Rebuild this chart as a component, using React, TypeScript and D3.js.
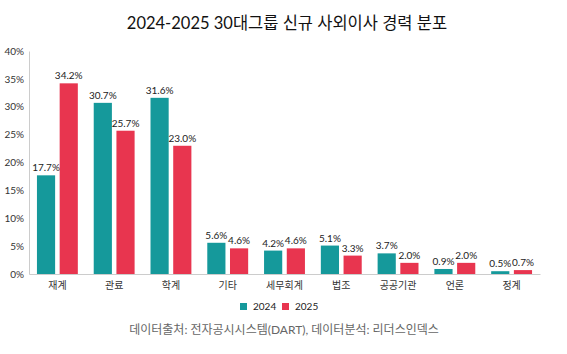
import { useRef, useEffect } from 'react';
import * as d3 from 'd3';

const categories = ['재계', '관료', '학계', '기타', '세무회계', '법조', '공공기관', '언론', '정계'];
const values2024 = [17.7, 30.7, 31.6, 5.6, 4.2, 5.1, 3.7, 0.9, 0.5];
const values2025 = [34.2, 25.7, 23.0, 4.6, 4.6, 3.3, 2.0, 2.0, 0.7];
const seriesNames = ['2024', '2025'];
const yTicks = [0, 5, 10, 15, 20, 25, 30, 35, 40];

const colors = ['#15999B', '#E8354F'];
const font = "Lato, 'Noto Sans CJK KR', sans-serif";

export default function App() {
  const svgRef = useRef<SVGSVGElement>(null);
  const width = 567;
  const height = 354;

  useEffect(() => {
    const svg = d3.select(svgRef.current);
    svg.selectAll('*').remove();
    const margin = { top: 51, right: 27, bottom: 80, left: 29 };

    svg.append('rect').attr('width', width).attr('height', height).attr('fill', '#fff');

    svg
      .append('text')
      .attr('x', 287)
      .attr('y', 29)
      .attr('text-anchor', 'middle')
      .style('font-family', font)
      .style('font-size', '16.5px')
      .attr('fill', '#111')
      .text('2024-2025 30대그룹 신규 사외이사 경력 분포');

    const x = d3
      .scaleBand()
      .domain(categories)
      .range([margin.left, width - margin.right])
      .paddingInner(0.28)
      .paddingOuter(0.14);

    const x1 = d3.scaleBand().domain(seriesNames).range([0, x.bandwidth()]).paddingInner(0.2);

    const y = d3.scaleLinear().domain([0, 40]).range([height - margin.bottom, margin.top]);

    // y axis
    const yAxis = svg
      .append('g')
      .attr('transform', `translate(${margin.left},0)`)
      .call(
        d3
          .axisLeft(y)
          .tickValues(yTicks)
          .tickSize(0)
          .tickPadding(5)
          .tickFormat((d) => `${d}%`)
      );
    yAxis.select('.domain').attr('stroke', '#ccc');
    yAxis.selectAll('text').style('font-family', font).style('font-size', '10px').attr('fill', '#333');

    // x axis
    const xAxis = svg
      .append('g')
      .attr('transform', `translate(0,${height - margin.bottom})`)
      .call(d3.axisBottom(x).tickSize(0).tickPadding(8).tickSizeOuter(0));
    xAxis.select('.domain').attr('stroke', '#ccc');
    xAxis.selectAll('text').style('font-family', font).style('font-size', '10px').attr('fill', '#333');

    const series = [values2024, values2025];
    series.forEach((vals, si) => {
      const g = svg.append('g');
      g.selectAll('rect')
        .data(vals)
        .join('rect')
        .attr('x', (_, i) => (x(categories[i]) ?? 0) + (x1(seriesNames[si]) ?? 0))
        .attr('y', (d) => y(d))
        .attr('width', x1.bandwidth())
        .attr('height', (d) => y(0) - y(d))
        .attr('fill', colors[si]);
      g.selectAll('text')
        .data(vals)
        .join('text')
        .attr('x', (_, i) => (x(categories[i]) ?? 0) + (x1(seriesNames[si]) ?? 0) + x1.bandwidth() / 2)
        .attr('y', (d) => y(d) - 4)
        .attr('text-anchor', 'middle')
        .style('font-family', font)
        .style('font-size', '10px')
        .attr('fill', '#222')
        .text((d) => `${d.toFixed(1)}%`);
    });

    // legend
    const legend = svg.append('g').attr('transform', `translate(240,303)`);
    seriesNames.forEach((name, i) => {
      const lg = legend.append('g').attr('transform', `translate(${i * 42},0)`);
      lg.append('rect').attr('width', 7).attr('height', 7).attr('y', 0).attr('fill', colors[i]);
      lg.append('text')
        .attr('x', 13)
        .attr('y', 7)
        .style('font-family', font)
        .style('font-size', '10px')
        .attr('fill', '#222')
        .text(name);
    });

    svg
      .append('text')
      .attr('x', 284)
      .attr('y', 334)
      .attr('text-anchor', 'middle')
      .style('font-family', font)
      .style('font-size', '12px')
      .attr('fill', '#666')
      .text('데이터출처: 전자공시시스템(DART), 데이터분석: 리더스인덱스');
  }, []);

  return <svg ref={svgRef} width={width} height={height} style={{ display: 'block', position: 'absolute', left: 0, top: 0 }} />;
}
